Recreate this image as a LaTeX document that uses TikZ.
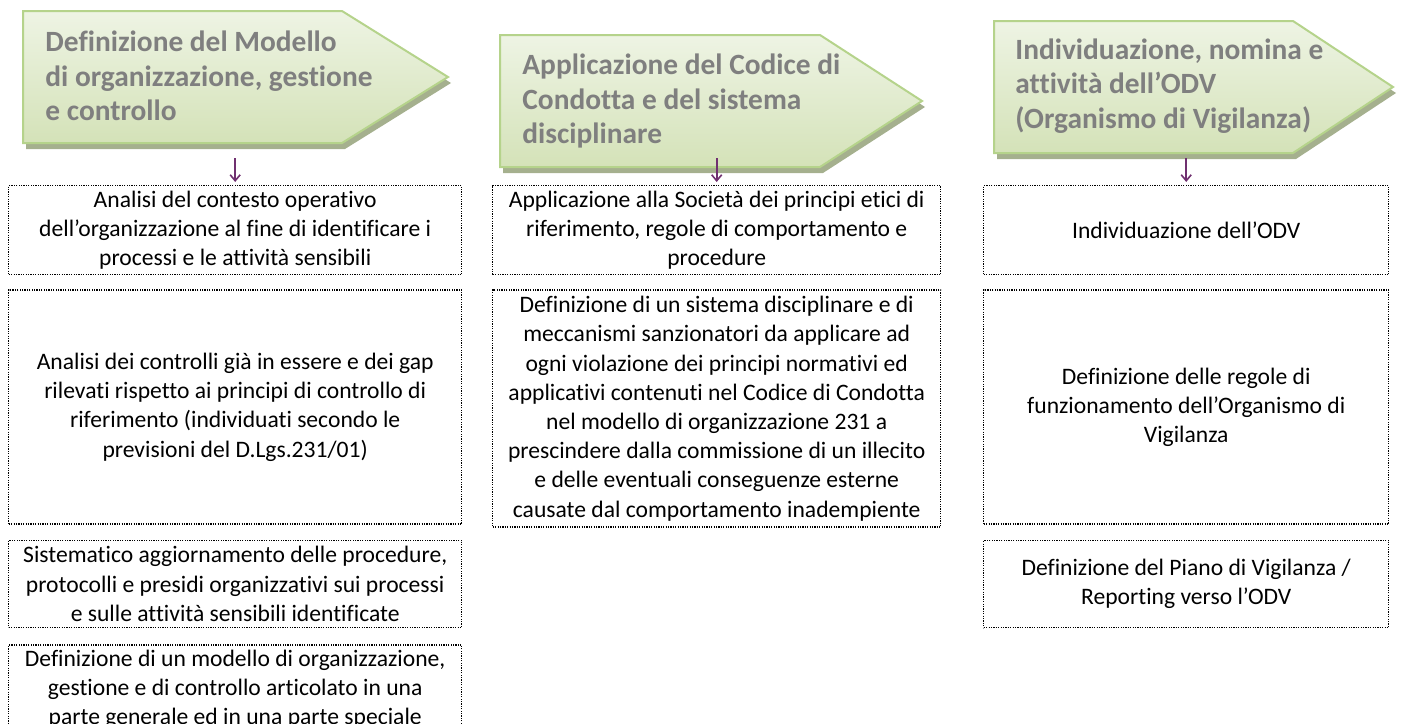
\documentclass[tikz,border=0pt]{standalone}
\usepackage{fontspec}
\setmainfont[Ligatures=NoCommon]{Carlito}
\usetikzlibrary{arrows.meta}
\usetikzlibrary{positioning}

\definecolor{hdtext}{RGB}{127,127,127}
\definecolor{hdtop}{RGB}{238,244,228}
\definecolor{hdbottom}{RGB}{212,226,184}
\definecolor{hdline}{RGB}{181,211,139}
\definecolor{hdshadow}{RGB}{165,176,142}
\definecolor{arrowpurple}{RGB}{112,48,112}

\tikzset{
  actbox/.style={draw, line width=0.7pt, dash pattern=on 0.6pt off 0.6pt,
    align=center, inner sep=2pt, font=\fontsize{11.8}{14.6}\selectfont},
  hdlabel/.style={anchor=west, inner sep=0pt, align=left, text=hdtext,
    font=\fontsize{14.7}{17.3}\selectfont\bfseries},
  downarrow/.style={draw=arrowpurple, line width=0.8pt,
    -{Straight Barb[length=3pt,width=5pt]}, shorten >=1.5pt},
}

% header pentagon: left, top, bottom, shoulder, tip
\newcommand{\hdshape}[5]{%
  \fill[hdshadow, shift={(3,6)}] (#1,#2) -- (#4,#2) -- (#5,{(#2+#3)/2})
    -- (#4,#3) -- (#1,#3) -- cycle;
  \draw[hdline, line width=1pt, top color=hdtop, bottom color=hdbottom]
    (#1,#2) -- (#4,#2) -- (#5,{(#2+#3)/2}) -- (#4,#3) -- (#1,#3) -- cycle;
}

\begin{document}
\begin{tikzpicture}[x=0.5pt, y=-0.5pt]
  \clip (0,0) rectangle (1402,723);

  % headers
  \hdshape{23}{11}{143}{342}{448}
  \hdshape{500}{35}{167}{820}{922}
  \hdshape{994}{21}{153}{1293}{1393}
  \node[hdlabel] (hd1) at (45,76) {Definizione del Modello\\di organizzazione, gestione\\e controllo};
  \node[hdlabel] (hd2) at (522,101) {Applicazione del Codice di\\Condotta e del sistema\\disciplinare};
  \node[hdlabel] (hd3) at (1015,86) {Individuazione, nomina e\\attività dell’ODV\\(Organismo di Vigilanza)};

  % first column
  \node[actbox, anchor=north west, minimum width=226.5pt, minimum height=44.5pt] (b11) at (8,185)
    {Analisi del contesto operativo\\dell’organizzazione al fine di identificare i\\processi e le attività sensibili};
  \node[actbox, below=7pt of b11, minimum width=226.5pt, minimum height=117pt] (b12)
    {Analisi dei controlli già in essere e dei gap\\rilevati rispetto ai principi di controllo di\\riferimento (individuati secondo le\\previsioni del D.Lgs.231/01)};
  \node[actbox, below=7.5pt of b12, minimum width=226.5pt, minimum height=43.5pt] (b13)
    {Sistematico aggiornamento delle procedure,\\protocolli e presidi organizzativi sui processi\\e sulle attività sensibili identificate};
  \node[actbox, below=8pt of b13, minimum width=226.5pt, minimum height=44.5pt] (b14)
    {Definizione di un modello di organizzazione,\\gestione e di controllo articolato in una\\parte generale ed in una parte speciale};

  % second column
  \node[actbox, anchor=north west, minimum width=224pt, minimum height=44.5pt] (b21) at (492,185)
    {Applicazione alla Società dei principi etici di\\riferimento, regole di comportamento e\\procedure};
  \node[actbox, below=7pt of b21, minimum width=224pt, minimum height=118.5pt] (b22)
    {Definizione di un sistema disciplinare e di\\meccanismi sanzionatori da applicare ad\\ogni violazione dei principi normativi ed\\applicativi contenuti nel Codice di Condotta\\nel modello di organizzazione 231 a\\prescindere dalla commissione di un illecito\\e delle eventuali conseguenze esterne\\causate dal comportamento inadempiente};

  % third column
  \node[actbox, anchor=north west, minimum width=202.5pt, minimum height=44.5pt] (b31) at (983,185)
    {Individuazione dell’ODV};
  \node[actbox, below=7pt of b31, minimum width=202.5pt, minimum height=117pt] (b32)
    {Definizione delle regole di\\funzionamento dell’Organismo di\\Vigilanza};
  \node[actbox, below=7.5pt of b32, minimum width=202.5pt, minimum height=43.5pt] (b33)
    {Definizione del Piano di Vigilanza /\\Reporting verso l’ODV};

  % arrows
  \coordinate (a1) at ([yshift=13.5pt]b11.north);
  \coordinate (a2) at ([yshift=13.5pt]b21.north);
  \coordinate (a3) at ([yshift=13.5pt]b31.north);
  \draw[downarrow] (a1) -- (b11.north);
  \draw[downarrow] (a2) -- (b21.north);
  \draw[downarrow] (a3) -- (b31.north);
\end{tikzpicture}
\end{document}
